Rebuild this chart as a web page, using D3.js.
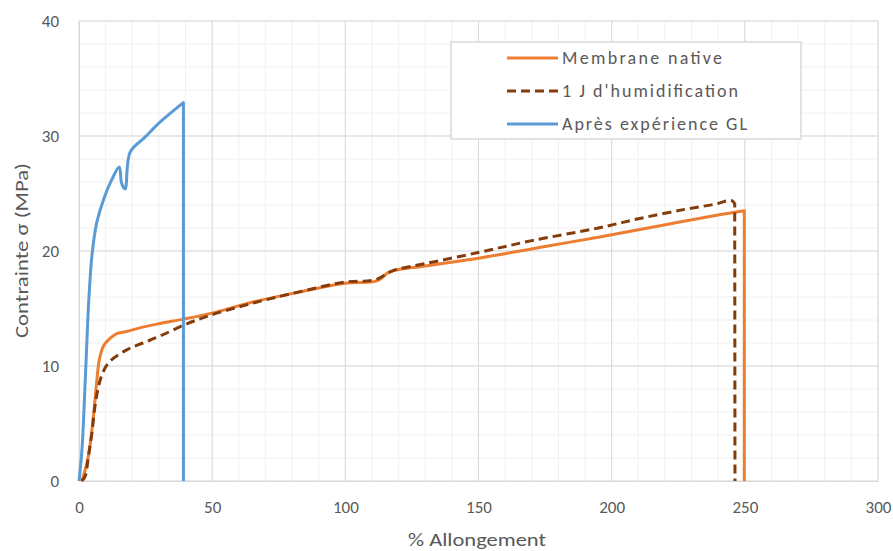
<!DOCTYPE html>
<html lang="fr">
<head>
    <meta charset="UTF-8">
    <title>Contrainte vs Allongement</title>
    <script src="https://d3js.org/d3.v7.min.js"></script>
    <style>
        body { margin: 0; background: #fff; }
        text { font-family: Calibri, "Liberation Sans", Arial, sans-serif; fill: #595959; }
        .grid-minor { stroke: #f0f0f0; stroke-width: 1; }
        .grid-major { stroke: #d9d9d9; stroke-width: 1; }
        .series { fill: none; stroke-width: 3; stroke-linejoin: round; }
    </style>
</head>
<body>
    <svg width="893" height="551"></svg>
    <script>
        // Data: [% allongement, contrainte MPa]
        const seriesNames = ["Membrane native", "1 J d'humidification", "Après expérience GL"];

        const native = [
            [1, 0], [2, 0.7], [3, 1.6], [3.9, 2.7], [5.4, 5.6], [6.6, 8.5], [7.6, 10.5],
            [9.1, 11.7], [11.6, 12.4], [14, 12.8], [17.9, 13.0], [24.2, 13.4], [30.4, 13.7],
            [39.8, 14.1], [50, 14.6], [64.2, 15.5], [80, 16.3], [99.9, 17.2], [111.8, 17.4],
            [116.8, 18.2], [130, 18.7], [150.6, 19.4], [175, 20.4], [195, 21.2], [218.2, 22.2],
            [239.4, 23.1], [249.8, 23.5], [249.8, 0]
        ];

        const humid = [
            [1, 0], [2.3, 0.4], [3.5, 2.1], [4.8, 4.1], [6, 6.5], [7.3, 8.2], [9.1, 9.5],
            [11.6, 10.4], [17.9, 11.4], [24, 12.0], [30.4, 12.6], [39.8, 13.6], [49.2, 14.4],
            [64.2, 15.4], [80, 16.3], [99.9, 17.3], [111.2, 17.5], [118, 18.3], [130, 18.9],
            [150.6, 19.9], [170, 20.9], [195, 22.0], [210, 22.8], [226.9, 23.6], [239.4, 24.1],
            [244.9, 24.4], [246.2, 24.1], [246.3, 0]
        ];

        const gl = [
            [0, 0], [1.1, 2.7], [2.3, 8.5], [3.3, 14], [3.9, 16.6], [4.9, 19.7], [6.6, 22.4],
            [9.1, 24.4], [12.3, 26.2], [15.1, 27.3], [16.0, 25.9], [17.3, 25.4], [19.2, 28.6],
            [24.8, 29.9], [30.4, 31.2], [39.2, 32.9], [39.2, 0]
        ];

        const xTicks = [0, 50, 100, 150, 200, 250, 300];
        const yTicks = [0, 10, 20, 30, 40];

        const svg = d3.select("svg"),
              margin = {top: 21, right: 15, bottom: 70, left: 79},
              width = +svg.attr("width") - margin.left - margin.right,
              height = +svg.attr("height") - margin.top - margin.bottom,
              g = svg.append("g").attr("transform", `translate(${margin.left},${margin.top})`);

        const x = d3.scaleLinear().domain([0, 300]).range([0, width]);
        const y = d3.scaleLinear().domain([0, 40]).range([height, 0]);

        // minor grid (every 10 % and every 2 MPa)
        g.selectAll(".vminor").data(d3.range(0, 301, 10)).join("line")
         .attr("class", "grid-minor")
         .attr("x1", d => x(d)).attr("x2", d => x(d))
         .attr("y1", 0).attr("y2", height);
        g.selectAll(".hminor").data(d3.range(0, 41, 2)).join("line")
         .attr("class", "grid-minor")
         .attr("x1", 0).attr("x2", width)
         .attr("y1", d => y(d)).attr("y2", d => y(d));

        // major grid
        g.selectAll(".vmajor").data(xTicks).join("line")
         .attr("class", "grid-major")
         .attr("x1", d => x(d)).attr("x2", d => x(d))
         .attr("y1", 0).attr("y2", height);
        g.selectAll(".hmajor").data(yTicks).join("line")
         .attr("class", "grid-major")
         .attr("x1", 0).attr("x2", width)
         .attr("y1", d => y(d)).attr("y2", d => y(d));

        // axes (labels only, Excel style)
        const xAxis = g.append("g").attr("transform", `translate(0,${height})`)
            .call(d3.axisBottom(x).tickValues(xTicks).tickSize(0).tickPadding(20));
        const yAxis = g.append("g")
            .call(d3.axisLeft(y).tickValues(yTicks).tickSize(0).tickPadding(20));
        [xAxis, yAxis].forEach(a => {
            a.select(".domain").attr("stroke", "#d9d9d9");
            a.selectAll("text").style("font-size", "17px").attr("fill", "#595959");
        });

        // series: smooth curve up to the break, then straight drop to zero
        const smooth = d3.line().x(d => x(d[0])).y(d => y(d[1]))
                         .curve(d3.curveCatmullRom.alpha(0.5));
        const pathFor = data => {
            const last = data[data.length - 1];
            return smooth(data.slice(0, -1)) + `L${x(last[0])},${y(last[1])}`;
        };
        g.append("path").attr("class", "series")
         .attr("stroke", "#ED7D31").attr("d", pathFor(native));
        g.append("path").attr("class", "series")
         .attr("stroke", "#843C0C").attr("stroke-dasharray", "9,5").attr("d", pathFor(humid));
        g.append("path").attr("class", "series")
         .attr("stroke", "#5B9BD5").attr("d", pathFor(gl));

        // axis titles
        svg.append("text")
           .attr("x", 408).attr("y", 546)
           .attr("textLength", 138).attr("lengthAdjust", "spacingAndGlyphs")
           .style("font-size", "18px")
           .text("% Allongement");
        svg.append("text")
           .attr("transform", "translate(28,338) rotate(-90)")
           .attr("textLength", 175).attr("lengthAdjust", "spacingAndGlyphs")
           .style("font-size", "18px")
           .text("Contrainte  σ  (MPa)");

        // legend
        const legend = svg.append("g");
        legend.append("rect")
              .attr("x", 451).attr("y", 42).attr("width", 350).attr("height", 97)
              .attr("fill", "#fff").attr("stroke", "#d9d9d9").attr("stroke-width", 1.5);
        const legendItems = [
            {name: seriesNames[0], color: "#ED7D31", dash: null, len: 160},
            {name: seriesNames[1], color: "#843C0C", dash: "9,5", len: 176},
            {name: seriesNames[2], color: "#5B9BD5", dash: null, len: 185}
        ];
        legendItems.forEach((d, i) => {
            const ly = 58 + i * 33;
            legend.append("line")
                  .attr("x1", 507).attr("x2", 558).attr("y1", ly).attr("y2", ly)
                  .attr("stroke", d.color).attr("stroke-width", 3)
                  .attr("stroke-dasharray", d.dash);
            legend.append("text")
                  .attr("x", 562).attr("y", ly + 6)
                  .attr("textLength", d.len).attr("lengthAdjust", "spacing")
                  .style("font-size", "18px").attr("fill", "#404040")
                  .text(d.name);
        });
    </script>
</body>
</html>
